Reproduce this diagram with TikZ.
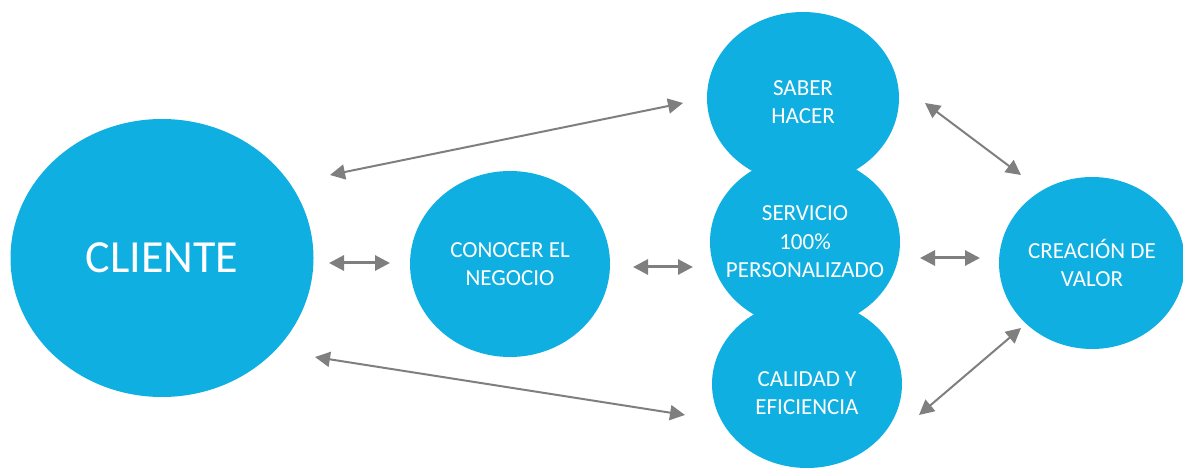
\documentclass[tikz,border=0pt]{standalone}
\usepackage{fontspec}
\setmainfont{Carlito}
\usetikzlibrary{shapes.geometric,arrows.meta}

\definecolor{bubblue}{HTML}{10AFE1}
\definecolor{lnkgray}{HTML}{7F7F7F}

\tikzstyle{bubble}=[ellipse,fill=bubblue,inner sep=0pt]
\tikzstyle{bubtext}=[text=white,align=center,font=\fontsize{23}{28.5}\selectfont]
\tikzstyle{bigtext}=[text=white,font=\fontsize{46}{52}\selectfont]
\tikzstyle{link}=[draw=lnkgray,line width=2pt,>={Triangle[length=15pt,width=15pt]},<->]
\tikzstyle{shortlink}=[link,line width=3pt]

\begin{document}
\begin{tikzpicture}[x=1pt,y=1pt]

   \useasboundingbox (0,0) rectangle (1183,469);

   % Bubbles
   \node[bubble,minimum width=303pt,minimum height=278pt,
      label={[bigtext]center:CLIENTE}] (cliente) at (162,211) {};
   \node[bubble,minimum width=200pt,minimum height=186pt,
      label={[bubtext]center:CONOCER EL\\NEGOCIO}] (conocer) at (510,205) {};

   \node[bubble,minimum width=192pt,minimum height=172pt,
      label={[bubtext,yshift=-4pt]center:SABER\\HACER}] (saber) at (803,371) {};
   \node[bubble,minimum width=190pt,minimum height=172pt,
      label={[bubtext]center:SERVICIO\\100\%\\PERSONALIZADO}] (servicio) at (805,227) {};
   \node[bubble,minimum width=190pt,minimum height=168pt,
      label={[bubtext,yshift=-9pt]center:CALIDAD Y\\EFICIENCIA}] (calidad) at (807,85) {};

   \node[bubble,minimum width=186pt,minimum height=172pt,
      label={[bubtext]center:CREACIÓN DE\\VALOR}] (creacion) at (1092,206) {};

   % Arrow ends
   \coordinate (clsa1) at (330,294);
   \coordinate (clsa2) at (683,366);
   \coordinate (clco1) at (329,206);
   \coordinate (clco2) at (390,206);
   \coordinate (cose1) at (633,202);
   \coordinate (cose2) at (693,202);
   \coordinate (clca1) at (315,112);
   \coordinate (clca2) at (685,54);
   \coordinate (sacr1) at (925,366);
   \coordinate (sacr2) at (1021,294);
   \coordinate (secr1) at (920,211);
   \coordinate (secr2) at (980,211);
   \coordinate (cacr1) at (1021,141);
   \coordinate (cacr2) at (919,54);

   % Arrows
   \draw[link] (clsa1) -- (clsa2);
   \draw[shortlink] (clco1) -- (clco2);
   \draw[shortlink] (cose1) -- (cose2);
   \draw[link] (clca1) -- (clca2);
   \draw[link] (sacr1) -- (sacr2);
   \draw[shortlink] (secr1) -- (secr2);
   \draw[link] (cacr1) -- (cacr2);

\end{tikzpicture}
\end{document}
